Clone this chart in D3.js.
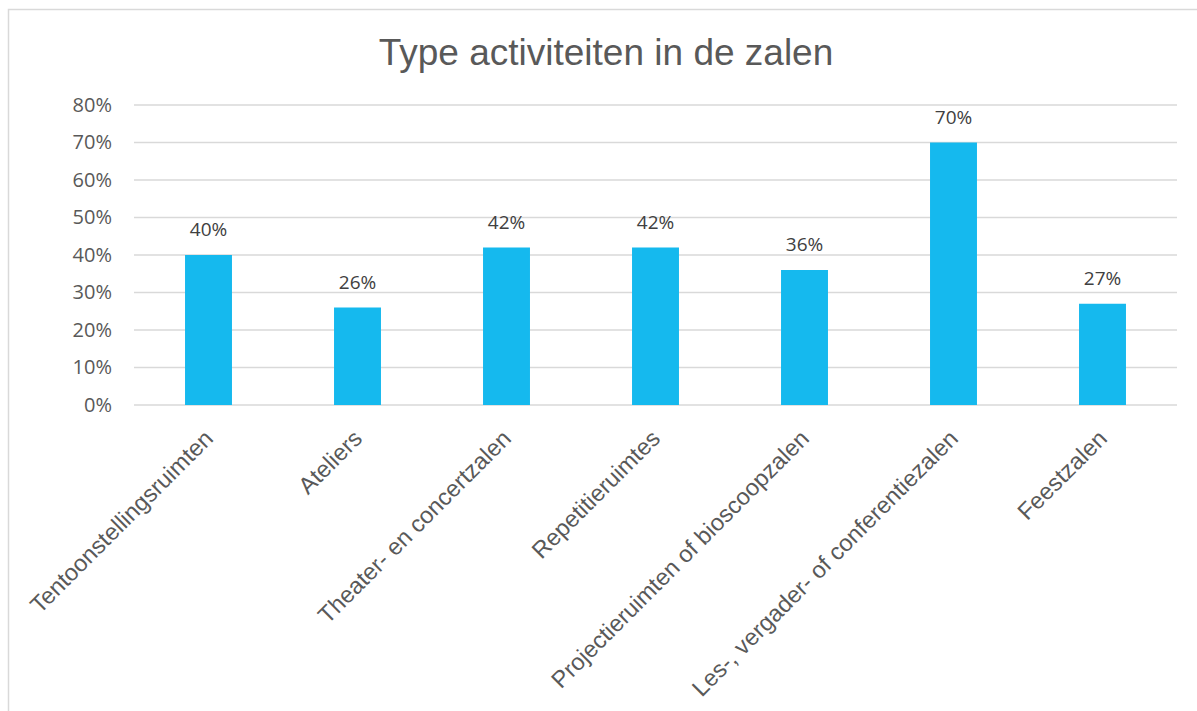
<!DOCTYPE html>
<html>
<head>
<meta charset="utf-8">
<script src="https://cdn.jsdelivr.net/npm/d3@7"></script>
<style>
  html, body { margin: 0; padding: 0; background: #fff; }
  svg { display: block; }
</style>
</head>
<body>
<svg id="chart" width="1197" height="711"></svg>
<script>
// Share of venues offering each type of room
const categories = [
  "Tentoonstellingsruimten",
  "Ateliers",
  "Theater- en concertzalen",
  "Repetitieruimtes",
  "Projectieruimten of bioscoopzalen",
  "Les-, vergader- of conferentiezalen",
  "Feestzalen"
];
const values = [0.40, 0.26, 0.42, 0.42, 0.36, 0.70, 0.27];
const yTicks = [0, 0.1, 0.2, 0.3, 0.4, 0.5, 0.6, 0.7, 0.8];
const title = "Type activiteiten in de zalen";

const svg = d3.select("#chart");
const W = 1197, H = 711;
const plot = { left: 134, right: 1177, top: 105, bottom: 405 };

// chart area frame
svg.append("rect")
  .attr("x", 8.5).attr("y", 9.5)
  .attr("width", W + 20).attr("height", H + 20)
  .attr("fill", "#fff")
  .attr("stroke", "#d9d9d9")
  .attr("stroke-width", 1.5);

svg.append("text")
  .attr("x", 606).attr("y", 65)
  .attr("text-anchor", "middle")
  .attr("font-family", "'Liberation Sans', Arial, sans-serif")
  .attr("font-size", 37)
  .attr("fill", "#595959")
  .text(title);

const x = d3.scaleBand()
  .domain(categories)
  .range([plot.left, plot.right])
  .paddingInner(0.685)
  .paddingOuter(0.3425);

const y = d3.scaleLinear()
  .domain([0, 0.8])
  .range([plot.bottom, plot.top]);

// gridlines
svg.append("g")
  .selectAll("line")
  .data(yTicks)
  .join("line")
  .attr("x1", plot.left).attr("x2", plot.right)
  .attr("y1", d => y(d)).attr("y2", d => y(d))
  .attr("stroke", "#d9d9d9")
  .attr("stroke-width", 1.5);

// y axis labels
const yAxis = d3.axisLeft(y)
  .tickValues(yTicks)
  .tickFormat(d3.format(".0%"))
  .tickSize(0)
  .tickPadding(22);
const gy = svg.append("g")
  .attr("transform", `translate(${plot.left},0)`)
  .call(yAxis);
gy.select(".domain").remove();
gy.selectAll("text")
  .attr("font-family", "'Open Sans', sans-serif")
  .attr("font-size", 20)
  .attr("fill", "#595959");

// bars
svg.append("g")
  .selectAll("rect")
  .data(values)
  .join("rect")
  .attr("x", (d, i) => x(categories[i]))
  .attr("y", d => y(d))
  .attr("width", x.bandwidth())
  .attr("height", d => y(0) - y(d))
  .attr("fill", "#15b9ee");

// value labels
svg.append("g")
  .selectAll("text")
  .data(values)
  .join("text")
  .attr("x", (d, i) => x(categories[i]) + x.bandwidth() / 2)
  .attr("y", d => y(d) - 19)
  .attr("text-anchor", "middle")
  .attr("font-family", "'Open Sans', sans-serif")
  .attr("font-size", 19)
  .attr("fill", "#404040")
  .text(d => d3.format(".0%")(d));

// category labels, rotated
const xAxis = d3.axisBottom(x).tickSize(0).tickPadding(0);
const gx = svg.append("g")
  .attr("transform", `translate(0,${plot.bottom})`)
  .call(xAxis);
gx.select(".domain").remove();
gx.selectAll("text")
  .attr("font-family", "'Liberation Sans', Arial, sans-serif")
  .attr("font-size", 23.5)
  .attr("fill", "#595959")
  .attr("text-anchor", "end")
  .attr("dy", null)
  .attr("y", 0)
  .attr("transform", "translate(6,35) rotate(-45)");
</script>
</body>
</html>
